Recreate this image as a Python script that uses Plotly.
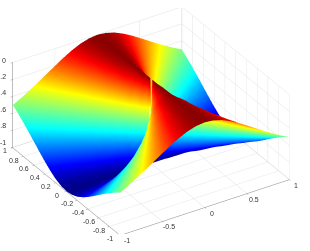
import plotly.graph_objects as go

grid_pos = [0, 0.012, 0.1, 0.2, 0.3, 0.4, 0.5, 0.6, 0.7, 0.8, 0.9, 1.0]
N = None
depth_rows = [
    [N, -1, -1, -1, -1, -1, -1, -1, -1, -1, -1, -1],
    [0, -.5, -.986, -.996, -.998, -.999, -.999, -1, -1, -1, -1, -1],
    [0, -.014, -.5, -.8, -.9, -.941, -.962, -.973, -.98, -.985, -.988, -.99],
    [0, -.004, -.2, -.5, -.692, -.8, -.862, -.9, -.925, -.941, -.953, -.962],
    [0, -.002, -.1, -.308, -.5, -.64, -.735, -.8, -.845, -.877, -.9, -.917],
    [0, -.001, -.059, -.2, -.36, -.5, -.61, -.692, -.754, -.8, -.835, -.862],
    [0, -.001, -.038, -.138, -.265, -.39, -.5, -.59, -.662, -.719, -.764, -.8],
    [0, 0, -.027, -.1, -.2, -.308, -.41, -.5, -.576, -.64, -.692, -.735],
    [0, 0, -.02, -.075, -.155, -.246, -.338, -.424, -.5, -.566, -.623, -.671],
    [0, 0, -.015, -.059, -.123, -.2, -.281, -.36, -.434, -.5, -.559, -.61],
    [0, 0, -.012, -.047, -.1, -.165, -.236, -.308, -.377, -.441, -.5, -.552],
    [0, 0, -.01, -.038, -.083, -.138, -.2, -.265, -.329, -.39, -.448, -.5],
]
x_ticks = [-1, -0.5, 0, 0.5, 1]
y_ticks = [-1, -0.8, -0.6, -0.4, -0.2, 0, 0.2, 0.4, 0.6, 0.8, 1]
z_ticks = [-1, -0.8, -0.6, -0.4, -0.2, 0]
jet = [[0, "#000080"], [0.11, "#0000ff"], [0.36, "#00ffff"], [0.5, "#80ff80"],
       [0.64, "#ffff00"], [0.89, "#ff0000"], [1, "#800000"]]

coords = [-v for v in grid_pos[:0:-1]] + grid_pos
z_grid = []
for r in depth_rows[:0:-1] + depth_rows:
    z_grid.append(r[:0:-1] + r)

fig = go.Figure(go.Surface(
    x=coords, y=coords, z=z_grid, colorscale=jet, cmin=-1.01, cmax=0.01, showscale=False,
    connectgaps=False, hoverinfo="skip",
    lighting=dict(ambient=1, diffuse=0, specular=0, fresnel=0, roughness=1),
))
def axis(ticks, rng):
    return dict(range=rng, tickvals=ticks, showticklabels=False, title="",
                showbackground=False, showgrid=True, gridcolor="#e2e2e2", gridwidth=1,
                zeroline=False, showline=True, linecolor="#8c8c8c", linewidth=1,
                ticks="outside", ticklen=2, tickcolor="#8c8c8c", showspikes=False)
label_font = dict(family="Liberation Sans", size=7, color="#333333")
def label(x, y, z, value, **place):
    return dict(x=x, y=y, z=z, text=f"{value:g}", showarrow=False, font=label_font, **place)
def edge_label(value, px, py, anchor):
    return dict(xref="paper", yref="paper", x=px / 310, y=1 - py / 251, text=f"{value:g}",
                xanchor=anchor, yanchor="middle", showarrow=False, font=label_font)
tick_labels = (
    [label(t, -1, -1, t, xshift=7, yshift=-6) for t in x_ticks]
    + [label(-1, t, -1, t, xshift=-10, yshift=-4) for t in y_ticks[:-1]]
)
edge_labels = [edge_label(y_ticks[-1], 5, 150, "center")] + [
    edge_label(t, 8, 60 - 82 * t, "right") for t in z_ticks
]
fig.update_layout(
    width=310, height=251, margin=dict(l=0, r=0, t=0, b=0), paper_bgcolor="white",
    annotations=edge_labels,
    scene=dict(
        xaxis=axis(x_ticks, [-1.003, 1.003]),
        yaxis=axis(y_ticks, [-1.003, 1.003]),
        zaxis=axis(z_ticks, [-1.003, 0.003]),
        aspectmode="manual", aspectratio=dict(x=1.776, y=1.776, z=0.882),
        camera=dict(eye=dict(x=-0.61, y=-0.96, z=0.69), center=dict(x=0, y=0, z=0),
                    up=dict(x=0, y=0, z=1), projection=dict(type="orthographic")),
        domain=dict(x=[0, 0.974], y=[0.068, 0.968]),
        annotations=tick_labels,
    ),
)
fig.write_html("out.html", config=dict(displayModeBar=False),
               post_script="document.body.style.margin='0';")
